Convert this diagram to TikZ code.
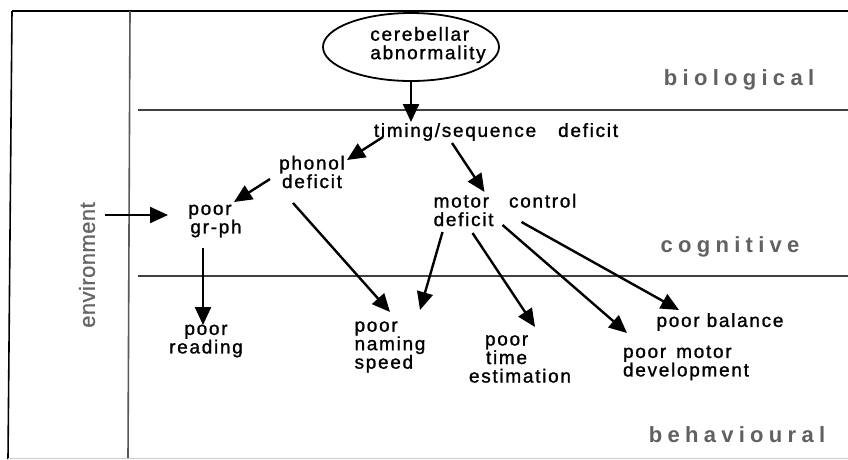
\documentclass[tikz,border=0pt]{standalone}
\usepackage{fontspec}
\setmainfont{Liberation Sans}
\newfontfamily\lblfont[LetterSpace=9,FakeBold=1.2]{Liberation Sans}
\newfontfamily\layerfont[LetterSpace=24]{Liberation Sans}
\newfontfamily\envfont[LetterSpace=2,FakeBold=0.8]{Liberation Sans}
\usetikzlibrary{arrows.meta,shapes.geometric}
\begin{document}
\begin{tikzpicture}[x=1pt,y=-1pt,
  lbl/.style={font=\lblfont\fontsize{19}{18.5}\selectfont, inner sep=0pt, align=center},
  lbll/.style={lbl, align=left},
  layer/.style={font=\layerfont\bfseries\fontsize{22}{24}\selectfont, text=black!62, inner sep=0pt},
  arr/.style={line width=2.4pt, -{Triangle[length=18pt,width=16pt]}},
  frame/.style={line width=1.6pt}]
\useasboundingbox (0,0) rectangle (848,459);
\fill[white] (0,0) rectangle (848,459);
% frame
\draw[frame, black] (12,11) -- (848,11);
\draw[frame, black] (12,11) -- (8,459);
\draw[frame, black!65] (130,11) -- (128,459);
\draw[frame, black!75] (138,110) -- (848,110);
\draw[frame, black!75] (138,276) -- (848,276);
\draw[black!20, line width=1pt] (8,458.5) -- (848,458.5);
% layer labels
\node[layer] (bio) at (739,80) {biological};
\node[layer] (cog) at (730,247) {cognitive};
\node[layer] (beh) at (737,435) {behavioural};
\node[font=\envfont\fontsize{22}{24}\selectfont, text=black!60, inner sep=0pt, rotate=90] (env) at (87,265) {environment};
% nodes
\node[draw, ellipse, line width=1.8pt, minimum width=176, minimum height=68, inner sep=0pt] (cer) at (411,47) {};
\node[lbll] (certxt) at (428,45) {cerebellar\\abnormality};
\node[lbl] (timing) at (496,132) {timing/sequence\hspace{22pt}deficit};
\node[lbl] (phonol) at (312,172) {phonol\\deficit};
\node[lbl] (grph) at (210,221) {poor\\\hspace{12pt}gr-ph};
\node[lbl] (reading) at (206,341) {poor\\reading};
\node[lbll] (naming) at (390,347) {poor\\naming\\speed};
\node[lbll] (motor) at (505,210) {motor\hspace{20pt}control\\deficit};
\node[lbll] (time) at (520,359) {\hspace{16pt}poor\\\hspace{17pt}time\\estimation};
\node[lbll] (mdev) at (686,363) {poor\hspace{10pt}motor\\development};
\node[lbl] (bal) at (720,322) {poor balance};
\coordinate (envin) at (105,215);
% arrows
\draw[arr] (cer.south) -- ([shift={(-85,-10)}]timing.center);
\draw[arr] ([shift={(-113,5)}]timing.center) -- ([shift={(35,-12)}]phonol.center);
\draw[arr] ([shift={(-44,11)}]timing.center) -- ([shift={(-20.5,-18)}]motor.center);
\draw[arr] ([shift={(-42,7)}]phonol.center) -- ([shift={(24,-19)}]grph.center);
\draw[arr] (envin) -- ([shift={(-42,-6)}]grph.center);
\draw[arr] ([shift={(-7,27)}]grph.center) -- ([shift={(-3,-16)}]reading.center);
\draw[arr] ([shift={(-19,31)}]phonol.center) -- ([shift={(0,-35)}]naming.center);
\draw[arr] ([shift={(-62.5,22)}]motor.center) -- ([shift={(30,-37)}]naming.center);
\draw[arr] ([shift={(-32.5,23)}]motor.center) -- ([shift={(15,-32)}]time.center);
\draw[arr] ([shift={(-2.5,15)}]motor.center) -- ([shift={(-59,-30)}]mdev.center);
\draw[arr] ([shift={(16.5,12)}]motor.center) -- ([shift={(-41,-12)}]bal.center);
\end{tikzpicture}
\end{document}
